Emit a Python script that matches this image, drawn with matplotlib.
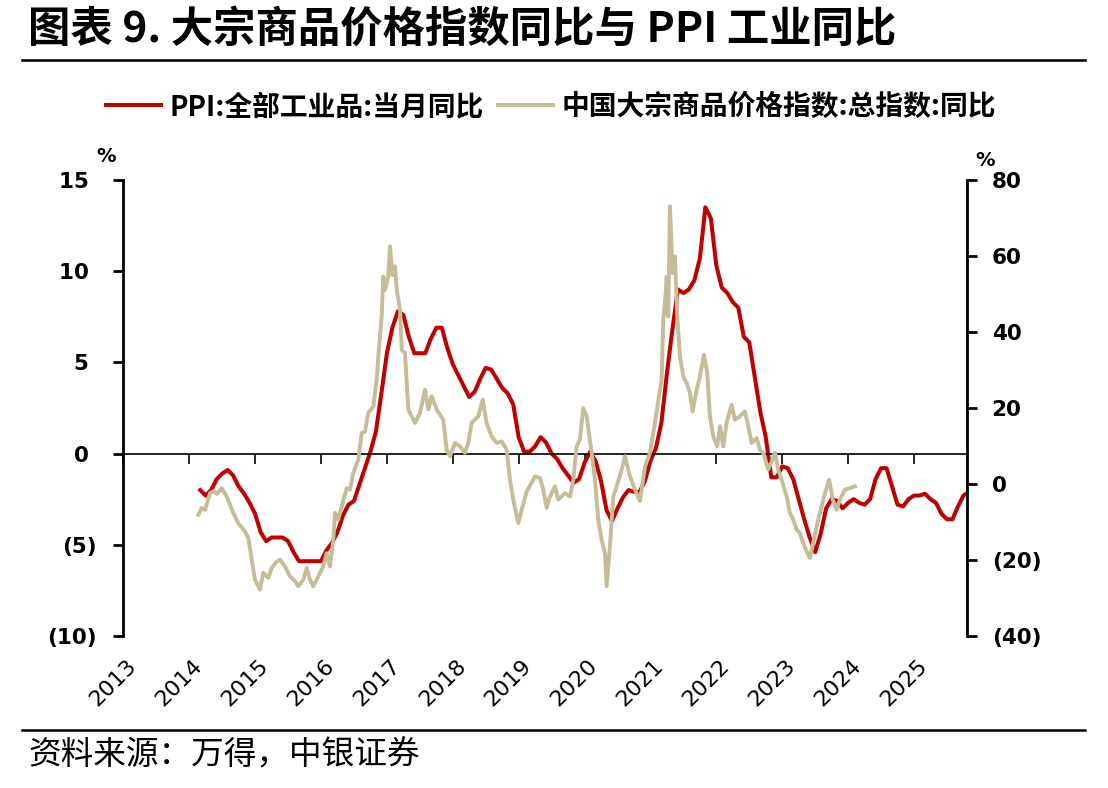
import numpy as np
import matplotlib
matplotlib.use('Agg')
import matplotlib.pyplot as plt
from matplotlib.lines import Line2D
from matplotlib import transforms

cjk = ['Noto Sans CJK SC', 'DejaVu Sans']

# PPI 当月同比, monthly from Feb 2014 to Oct 2025 (left axis, %)
ppi_values = [
    -2.0, -2.3, -2.0, -1.4, -1.1, -0.9, -1.2, -1.8, -2.2, -2.7, -3.3,
    -4.3, -4.8, -4.6, -4.6, -4.6, -4.8, -5.4, -5.9, -5.9, -5.9, -5.9, -5.9,
    -5.3, -4.9, -4.3, -3.4, -2.8, -2.6, -1.7, -0.8, 0.1, 1.2, 3.3, 5.5,
    6.9, 7.8, 7.6, 6.4, 5.5, 5.5, 5.5, 6.3, 6.9, 6.9, 5.8, 4.9,
    4.3, 3.7, 3.1, 3.4, 4.1, 4.7, 4.6, 4.1, 3.6, 3.3, 2.7, 0.9,
    0.1, 0.1, 0.4, 0.9, 0.6, 0.0, -0.3, -0.8, -1.2, -1.6, -1.4, -0.5,
    0.1, -0.4, -1.5, -3.1, -3.7, -3.0, -2.4, -2.0, -2.1, -2.1, -1.5, -0.4,
    0.3, 1.7, 4.4, 6.8, 9.0, 8.8, 9.0, 9.5, 10.7, 13.5, 12.9, 10.3,
    9.1, 8.8, 8.3, 8.0, 6.4, 6.1, 4.2, 2.3, 0.9, -1.3, -1.3, -0.7,
    -0.8, -1.4, -2.5, -3.6, -4.6, -5.4, -4.4, -3.0, -2.5, -2.6, -3.0, -2.7,
    -2.5, -2.7, -2.8, -2.5, -1.4, -0.8, -0.8, -1.8, -2.8, -2.9, -2.5, -2.3,
    -2.3, -2.2, -2.5, -2.7, -3.3, -3.6, -3.6, -2.9, -2.3, -2.1,
]
ppi_x = 2014 + (2 + np.arange(len(ppi_values))) / 12  # month-end positions

# 中国大宗商品价格指数 同比 (right axis, %), dates as decimal years
cci_x = [
    2014.138, 2014.190, 2014.240, 2014.316, 2014.366, 2014.422, 2014.493, 2014.569, 2014.669, 2014.745, 2014.847, 2014.897, 2014.948, 2014.998,
    2015.074, 2015.124, 2015.200, 2015.252, 2015.328, 2015.378, 2015.454, 2015.530, 2015.606, 2015.656, 2015.731, 2015.783, 2015.833, 2015.883, 2015.959,
    2016.035, 2016.086, 2016.137, 2016.187, 2016.213, 2016.262, 2016.314, 2016.390, 2016.440, 2016.490, 2016.566, 2016.618, 2016.668, 2016.718, 2016.794, 2016.845, 2016.870, 2016.921, 2016.945, 2016.971,
    2017.021, 2017.047, 2017.085, 2017.123, 2017.149, 2017.199, 2017.225, 2017.275, 2017.325, 2017.426, 2017.502, 2017.578, 2017.628, 2017.680, 2017.756, 2017.856, 2017.907, 2017.958,
    2018.033, 2018.109, 2018.185, 2018.235, 2018.287, 2018.387, 2018.454, 2018.514, 2018.590, 2018.666, 2018.742, 2018.818, 2018.868, 2018.918, 2018.994,
    2019.046, 2019.121, 2019.247, 2019.323, 2019.373, 2019.425, 2019.475, 2019.551, 2019.601, 2019.703, 2019.779, 2019.829, 2019.880, 2019.930, 2019.980,
    2020.032, 2020.108, 2020.158, 2020.208, 2020.259, 2020.310, 2020.335, 2020.385, 2020.436, 2020.487, 2020.563, 2020.613, 2020.689, 2020.765, 2020.841, 2020.917, 2020.993,
    2021.068, 2021.144, 2021.170, 2021.194, 2021.220, 2021.246, 2021.270, 2021.296, 2021.337, 2021.372, 2021.407, 2021.448, 2021.498, 2021.549, 2021.599, 2021.640, 2021.701, 2021.751, 2021.812, 2021.862, 2021.903, 2021.953,
    2022.014, 2022.055, 2022.105, 2022.156, 2022.232, 2022.282, 2022.358, 2022.434, 2022.484, 2022.536, 2022.612, 2022.662, 2022.712, 2022.788, 2022.839, 2022.889, 2022.939, 2022.991,
    2023.067, 2023.117, 2023.167, 2023.218, 2023.268, 2023.319, 2023.370, 2023.420, 2023.470, 2023.546, 2023.598, 2023.648, 2023.713, 2023.765, 2023.826, 2023.876, 2023.952,
    2024.028, 2024.103,
]
cci_values = [
    -8.1, -6.3, -6.8, -2.4, -1.9, -2.6, -1.1, -3.3, -7.6, -10.3, -12.5, -14.2, -19.9, -25.2,
    -27.8, -23.4, -24.7, -22.1, -20.4, -19.9, -21.7, -24.3, -25.6, -26.9, -25.2, -22.1, -25.2, -26.9, -24.3,
    -21.7, -18.2, -21.7, -14.7, -7.6, -9.4, -5.9, -1.1, -1.5, 2.9, 6.4, 13.4, 13.8, 18.7, 20.4, 27.4, 33.6, 44.1, 54.6, 51.1,
    54.6, 62.5, 55.0, 57.3, 51.1, 45.9, 35.3, 34.5, 19.6, 16.1, 18.7, 24.8, 19.6, 23.1, 19.6, 16.9, 9.0, 7.3,
    10.8, 9.9, 8.2, 10.8, 16.1, 17.8, 22.2, 16.0, 12.5, 10.8, 11.2, 9.0, 1.1, -4.1, -10.3,
    -6.8, -2.0, 2.0, 1.6, -1.5, -6.3, -3.3, -0.6, -4.1, -2.4, -3.3, 1.1, 9.9, 11.7, 20.0,
    17.8, 8.2, 1.1, -9.4, -14.7, -18.2, -26.9, -16.4, -3.3, -0.6, 3.8, 7.3, 2.0, -1.5, -4.5, 4.6, 8.2,
    16.1, 24.8, 27.4, 43.2, 47.6, 54.6, 44.1, 73.1, 55.5, 59.9, 44.1, 33.6, 28.3, 26.6, 23.9, 19.1, 24.8, 28.3, 34.0, 29.2, 17.8, 12.5,
    9.9, 15.2, 9.9, 16.1, 20.9, 16.9, 17.8, 19.1, 15.2, 10.8, 12.1, 9.0, 8.2, 3.8, 5.9, 8.2, 3.8, 1.1,
    -3.3, -7.6, -9.4, -12.0, -12.9, -15.5, -17.7, -19.5, -15.5, -9.4, -5.9, -2.4, 1.1, -4.1, -6.8, -4.1, -1.5,
    -1.1, -0.6,
]

years = list(range(2013, 2026))
left_ticks = [-10, -5, 0, 5, 10, 15]
right_ticks = [-40, -20, 0, 20, 40, 60, 80]


def fmt(v, pad=''):
    # accounting style: negatives in brackets
    return '({})'.format(-v) if v < 0 else '{}{}'.format(v, pad)


fig = plt.figure(figsize=(11.08, 7.88), dpi=100)
ax = fig.add_axes([0.1113, 0.1929, 0.7612, 0.5787])
ax2 = ax.twinx()

l1, = ax.plot(ppi_x, ppi_values, color='#C00000', lw=2.9, solid_joinstyle='round')
l2, = ax2.plot(cci_x, cci_values, color='#C4BD97', lw=2.8, solid_joinstyle='round')

ax.set_xlim(2013, 2025.8)
ax.set_ylim(-10, 15)
ax2.set_ylim(-40, 80)

ax.set_yticks(left_ticks)
ax.set_yticklabels([fmt(v, '\u2008') for v in left_ticks], fontweight='bold')
ax2.set_yticks(right_ticks)
ax2.set_yticklabels([fmt(v) for v in right_ticks], fontweight='bold')

ax.spines['top'].set_visible(False)
ax.spines['right'].set_visible(False)
ax.spines['bottom'].set_position(('data', 0))
ax.spines['bottom'].set_linewidth(1.2)
ax.spines['left'].set_linewidth(2)
for s in ['top', 'left', 'bottom']:
    ax2.spines[s].set_visible(False)
ax2.spines['right'].set_linewidth(2)

ax.set_xticks(years)
ax.tick_params(axis='x', direction='out', length=7, width=1.2, labelbottom=False)
ax.tick_params(axis='y', direction='out', length=7, width=2, pad=12, labelsize=15.5)
ax2.tick_params(axis='y', direction='out', length=7, width=2, pad=11, labelsize=15.5)

# year labels under the plot, ticks stay on the zero line
trans = transforms.blended_transform_factory(ax.transData, ax.transAxes)
trans = transforms.offset_copy(trans, fig=fig, x=10, y=-27, units='dots')
for y in years:
    ax.text(y, 0, str(y), transform=trans, rotation=45, rotation_mode='anchor',
            ha='right', va='center', fontsize=16)

fig.text(106 / 1108, 1 - 156 / 788, '%', ha='center', va='center', fontsize=14, fontweight='bold')
fig.text(985 / 1108, 1 - 160 / 788, '%', ha='center', va='center', fontsize=14, fontweight='bold')

fig.text(28 / 1108, 1 - 30 / 788, '图表 9. 大宗商品价格指数同比与 PPI 工业同比',
         family=cjk, fontsize=30.5, fontweight='bold', ha='left', va='center')
fig.add_artist(Line2D([22 / 1108, 1085 / 1108], [1 - 60 / 788] * 2, color='black', lw=1.8))
fig.add_artist(Line2D([22 / 1108, 1085 / 1108], [1 - 730 / 788] * 2, color='black', lw=1.8))
fig.text(28 / 1108, 1 - 756 / 788, '资料来源：万得，中银证券',
         family=cjk, fontsize=23.5, ha='left', va='center')

fig.legend([l1, l2], ['PPI:全部工业品:当月同比', '中国大宗商品价格指数:总指数:同比'],
           loc='center', bbox_to_anchor=(551 / 1108, 1 - 107 / 788), ncol=2, frameon=False,
           prop={'family': cjk, 'size': 20, 'weight': 'bold'},
           handlelength=2.0, handletextpad=0.3, columnspacing=0.5)

fig.savefig('out.png', dpi=100)
